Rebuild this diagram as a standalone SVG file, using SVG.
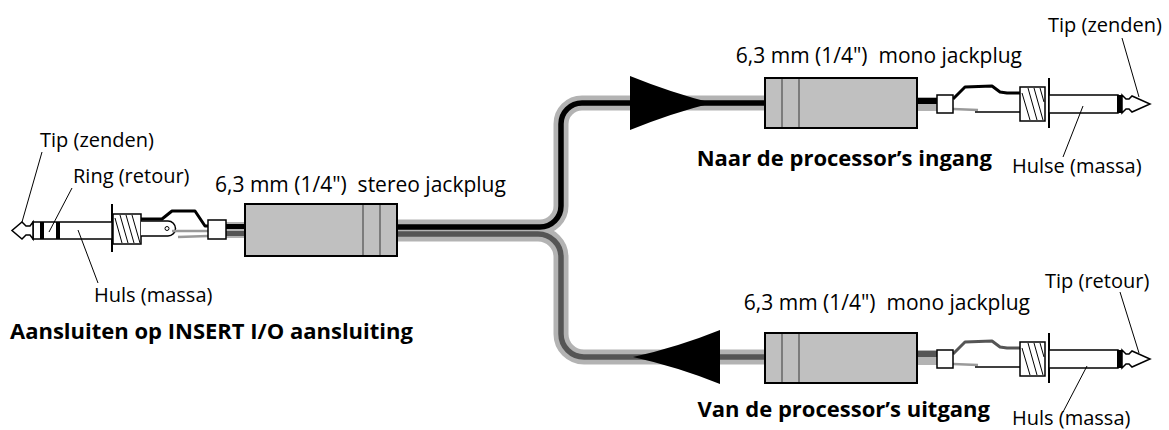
<svg xmlns="http://www.w3.org/2000/svg" width="1169" height="430" viewBox="0 0 1169 430">
<style>
text{font-family:"Open Sans","Noto Sans",sans-serif;font-size:20px;fill:#000}
.jp{font-size:21px}
.b{font-weight:bold;font-size:22px}
.ln{stroke:#000;stroke-width:1.5;fill:none}
.ld{stroke:#000;stroke-width:1;fill:none}
.body{fill:#c0c0c0;stroke:#000;stroke-width:2}
.vl{stroke:#666;stroke-width:1.5}
.wh{fill:#fff;stroke:#000;stroke-width:1.5}
.gout{stroke:#b3b3b3;stroke-width:15;fill:none}
.wblk{stroke:#000;stroke-width:3;fill:none;stroke-linejoin:round}
.wdk{stroke:#555;stroke-width:3;fill:none;stroke-linejoin:round}
.wgr{stroke:#9a9a9a;stroke-width:2.5;fill:none}
</style>
<rect width="1169" height="430" fill="#fff"/>
<g id="connectors">
  <path class="gout" d="M397 234 H538 A23 23 0 0 1 561 257 V334 A23 23 0 0 0 584 357 H765"/>
  <path class="gout" d="M397 227 H540 A21 21 0 0 0 561 206 V124 A21 21 0 0 1 582 103 H765"/>
  <path d="M397 234 H538 A23 23 0 0 1 561 257 V334 A23 23 0 0 0 584 357 H765" stroke="#555" stroke-width="5.5" fill="none"/>
  <path d="M397 227 H540 A21 21 0 0 0 561 206 V124 A21 21 0 0 1 582 103 H765" stroke="#000" stroke-width="5.5" fill="none"/>
  <rect x="226" y="222" width="19" height="16" fill="#b3b3b3"/>
  <rect x="226" y="224" width="19" height="5" fill="#000"/>
  <rect x="226" y="231" width="19" height="5" fill="#555"/>
  <rect x="917" y="97" width="20" height="14" fill="#b3b3b3"/>
  <rect x="917" y="98" width="20" height="6" fill="#000"/>
  <rect x="917" y="350" width="20" height="15" fill="#b3b3b3"/>
  <rect x="917" y="351" width="20" height="6" fill="#555"/>
  <path d="M630 76 Q672 93 712 103 Q672 113 630 130 Z" fill="#000"/>
  <path d="M720 330 Q678 347 633 357 Q678 367 720 384 Z" fill="#000"/>
</g>
<g id="stereo-plug">
  <line x1="112" y1="204" x2="112" y2="252" stroke="#000" stroke-width="2"/>
  <rect class="wh" x="33" y="222" width="79" height="17"/>
  <rect x="40" y="222" width="4" height="17" fill="#000"/>
  <rect x="56" y="222" width="4" height="17" fill="#000"/>
  <path class="wh" d="M33 222 L30 226 L26 226 L22 222 L12 230.5 L22 239 L26 235 L30 235 L33 239 Z"/>
  <rect class="wh" x="113" y="214" width="28" height="30"/>
  <g class="ld">
    <line x1="115" y1="218" x2="122" y2="243"/>
    <line x1="120" y1="215" x2="128" y2="243"/>
    <line x1="126" y1="215" x2="134" y2="243"/>
    <line x1="132" y1="215" x2="140" y2="243"/>
  </g>
  <path class="wh" d="M141 221 H168 A7.5 7.5 0 0 1 168 236 H141"/>
  <circle cx="167" cy="228.5" r="2" fill="#fff" stroke="#000" stroke-width="1"/>
  <line class="wgr" x1="172" y1="231" x2="208" y2="231"/>
  <polyline class="wgr" points="178,237 208,236"/>
  <polyline class="wblk" points="141,219 162,219 172,211 195,211 205,226 208,226"/>
  <rect class="wh" x="208" y="220" width="18" height="19"/>
  <rect class="body" x="245" y="204" width="152" height="52"/>
  <line class="vl" x1="363" y1="205" x2="363" y2="255"/>
  <line class="vl" x1="380" y1="205" x2="380" y2="255"/>
  <line class="ld" x1="42" y1="152" x2="22" y2="222"/>
  <line class="ld" x1="72" y1="188" x2="49" y2="232"/>
  <line class="ld" x1="78" y1="230" x2="98" y2="283"/>
  <text x="40" y="147">Tip (zenden)</text>
  <text x="73" y="183">Ring (retour)</text>
  <text x="94" y="302">Huls (massa)</text>
  <text class="jp" x="215" y="192" xml:space="preserve">6,3 mm (1/4")  stereo jackplug</text>
  <text class="b" x="10" y="339">Aansluiten op INSERT I/O aansluiting</text>
</g>
<g id="mono-plug-in">
  <rect class="body" x="765" y="78" width="152" height="50"/>
  <line class="vl" x1="782" y1="79" x2="782" y2="127"/>
  <line class="vl" x1="799" y1="79" x2="799" y2="127"/>
  <line class="wgr" x1="953" y1="109" x2="978" y2="110" stroke-width="3"/>
  <line class="ln" x1="975" y1="112" x2="1020" y2="112"/>
  <polyline class="wblk" points="953,99 965,87 992,86 1000,92 1007,93 1020,93"/>
  <rect class="wh" x="937" y="95" width="16" height="18"/>
  <line x1="1049" y1="78" x2="1049" y2="128" stroke="#000" stroke-width="2"/>
  <rect class="wh" x="1020" y="87" width="25" height="34"/>
  <g class="ld">
    <line x1="1022" y1="93" x2="1030" y2="120"/>
    <line x1="1028" y1="88" x2="1037" y2="120"/>
    <line x1="1034" y1="88" x2="1043" y2="120"/>
    <line x1="1040" y1="88" x2="1044" y2="102"/>
  </g>
  <rect class="wh" x="1049" y="95" width="69" height="18"/>
  <rect x="1117" y="95" width="5" height="18" fill="#000"/>
  <path class="wh" d="M1122 95 L1126 99 L1129 99 L1132 96 L1150 104 L1132 112 L1129 109 L1126 109 L1122 113 Z"/>
  <line class="ld" x1="1122" y1="38" x2="1139" y2="97"/>
  <line class="ld" x1="1063" y1="157" x2="1083" y2="106"/>
  <text x="1048" y="32">Tip (zenden)</text>
  <text x="1012" y="173">Hulse (massa)</text>
  <text class="jp" x="1022" y="63" text-anchor="end" xml:space="preserve">6,3 mm (1/4")  mono jackplug</text>
  <text class="b" x="992" y="166" text-anchor="end">Naar de processor’s ingang</text>
</g>
<g id="mono-plug-out">
  <rect class="body" x="765" y="333" width="152" height="50"/>
  <line class="vl" x1="782" y1="334" x2="782" y2="382"/>
  <line class="vl" x1="799" y1="334" x2="799" y2="382"/>
  <line class="wgr" x1="953" y1="364" x2="978" y2="365" stroke-width="3"/>
  <line class="ln" x1="975" y1="367" x2="1020" y2="367"/>
  <polyline class="wdk" points="953,354 965,342 992,341 1000,347 1007,348 1020,348"/>
  <rect class="wh" x="937" y="350" width="16" height="18"/>
  <line x1="1049" y1="333" x2="1049" y2="383" stroke="#000" stroke-width="2"/>
  <rect class="wh" x="1020" y="342" width="25" height="34"/>
  <g class="ld">
    <line x1="1022" y1="348" x2="1030" y2="375"/>
    <line x1="1028" y1="343" x2="1037" y2="375"/>
    <line x1="1034" y1="343" x2="1043" y2="375"/>
    <line x1="1040" y1="343" x2="1044" y2="357"/>
  </g>
  <rect class="wh" x="1049" y="350" width="69" height="18"/>
  <rect x="1117" y="350" width="5" height="18" fill="#000"/>
  <path class="wh" d="M1122 350 L1126 354 L1129 354 L1132 351 L1150 359 L1132 367 L1129 364 L1126 364 L1122 368 Z"/>
  <line class="ld" x1="1120" y1="292" x2="1139" y2="353"/>
  <line class="ld" x1="1063" y1="412" x2="1087" y2="366"/>
  <text x="1045" y="288">Tip (retour)</text>
  <text x="1012" y="425">Huls (massa)</text>
  <text class="jp" x="1030" y="310" text-anchor="end" xml:space="preserve">6,3 mm (1/4")  mono jackplug</text>
  <text class="b" x="990" y="417" text-anchor="end">Van de processor’s uitgang</text>
</g>
</svg>
